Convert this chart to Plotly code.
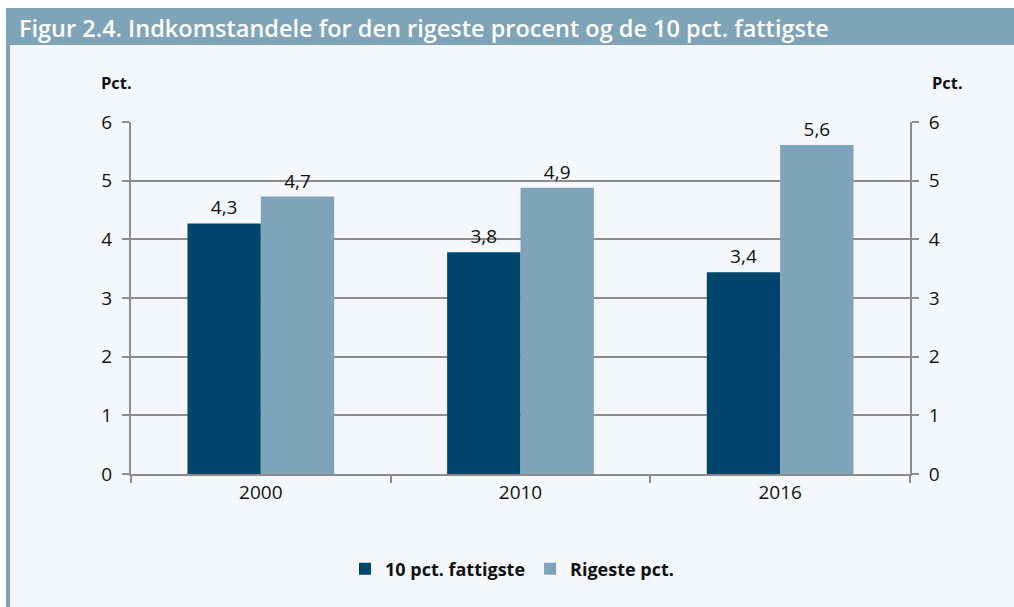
import plotly.graph_objects as go

years = ["2000", "2010", "2016"]
poorest = [4.27, 3.78, 3.44]
richest = [4.73, 4.88, 5.61]
series_names = ["10 pct. fattigste", "Rigeste pct."]
title_text = "Figur 2.4. Indkomstandele for den rigeste procent og de 10 pct. fattigste"
y_ticks = [0, 1, 2, 3, 4, 5, 6]

DARK = "#00466c"
LIGHT = "#7fa3b8"
BAR = "#7fa3b7"
BG = "#f4f8fc"
GRID = "#8c8c8c"

W, H = 1014, 607
L, R, T, B = 131, 104, 122, 133
pw, ph = W - L - R, H - T - B

def px(x):
    return (x - L) / pw

def py(y):
    return (H - B - y) / ph

lab_font = dict(family="Open Sans", size=19, color="#111")

fig = go.Figure()
fig.add_trace(go.Bar(x=years, y=poorest, name=series_names[0], marker_color=DARK,
                     marker_line_width=0, texttemplate="%{y:.1f}", textposition="outside",
                     textfont=lab_font, cliponaxis=False))
fig.add_trace(go.Bar(x=years, y=richest, name=series_names[1], marker_color=LIGHT,
                     marker_line_width=0, texttemplate="%{y:.1f}", textposition="outside",
                     textfont=lab_font, cliponaxis=False))
fig.add_trace(go.Scatter(x=years, y=richest, yaxis="y2", mode="markers",
                         marker=dict(opacity=0), showlegend=False, hoverinfo="skip"))

axis_font = dict(family="Open Sans", size=19, color="#111")
fig.update_layout(
    width=W, height=H,
    margin=dict(l=L, r=R, t=T, b=B),
    paper_bgcolor=BG, plot_bgcolor=BG,
    separators=",.",
    barmode="group", bargap=0.435, bargroupgap=0,
    showlegend=True,
    legend=dict(orientation="h", x=px(512), xanchor="center", y=py(569), yanchor="middle",
                font=dict(family="Open Sans", size=18, color="#111", weight="bold"),
                bgcolor="rgba(0,0,0,0)", itemwidth=30, traceorder="normal"),
    xaxis=dict(type="category", tickson="boundaries", ticks="outside", ticklen=7,
               tickcolor=GRID, tickwidth=2, showline=True, linecolor=GRID, linewidth=2,
               showgrid=False, tickfont=axis_font),
    yaxis=dict(range=[0, 6], tickvals=y_ticks, ticks="outside", ticklen=7, tickcolor=GRID,
               tickwidth=2, showline=True, linecolor=GRID, linewidth=2, showgrid=True,
               gridcolor=GRID, gridwidth=2, zeroline=False, tickfont=axis_font,
               ticklabelstandoff=6),
    yaxis2=dict(range=[0, 6], tickvals=y_ticks, overlaying="y", side="right", ticks="outside",
                ticklen=7, tickcolor=GRID, tickwidth=2, showline=True, linecolor=GRID,
                linewidth=2, showgrid=False, zeroline=False, tickfont=axis_font,
                ticklabelstandoff=6),
    shapes=[
        dict(type="rect", xref="paper", yref="paper", x0=px(-5), x1=px(W + 5), y0=py(8), y1=py(-5),
             fillcolor="white", line_width=0, layer="below"),
        dict(type="rect", xref="paper", yref="paper", x0=px(-5), x1=px(6), y0=py(H + 5), y1=py(-5),
             fillcolor="white", line_width=0, layer="below"),
        dict(type="rect", xref="paper", yref="paper", x0=px(6), x1=px(W + 5), y0=py(45), y1=py(8),
             fillcolor=BAR, line_width=0, layer="below"),
        dict(type="rect", xref="paper", yref="paper", x0=px(6), x1=px(10), y0=py(H + 5), y1=py(45),
             fillcolor=BAR, line_width=0, layer="below"),
    ],
    annotations=[
        dict(text=title_text, xref="paper", yref="paper", x=px(17), y=py(28), xanchor="left",
             yanchor="middle", showarrow=False,
             font=dict(family="Open Sans", size=23.5, color="white", weight=600)),
        dict(text="Pct.", xref="paper", yref="paper", x=px(99), y=py(82), xanchor="left",
             yanchor="middle", showarrow=False,
             font=dict(family="Open Sans", size=16.5, color="#111", weight="bold")),
        dict(text="Pct.", xref="paper", yref="paper", x=px(930), y=py(82), xanchor="left",
             yanchor="middle", showarrow=False,
             font=dict(family="Open Sans", size=16.5, color="#111", weight="bold")),
    ],
)

fig.write_html("out.html", config={"displayModeBar": False},
               post_script="document.documentElement.style.overflow='hidden';"
                           "document.documentElement.style.scrollbarWidth='none';"
                           "document.body.style.margin='0';document.body.style.overflow='hidden';")
